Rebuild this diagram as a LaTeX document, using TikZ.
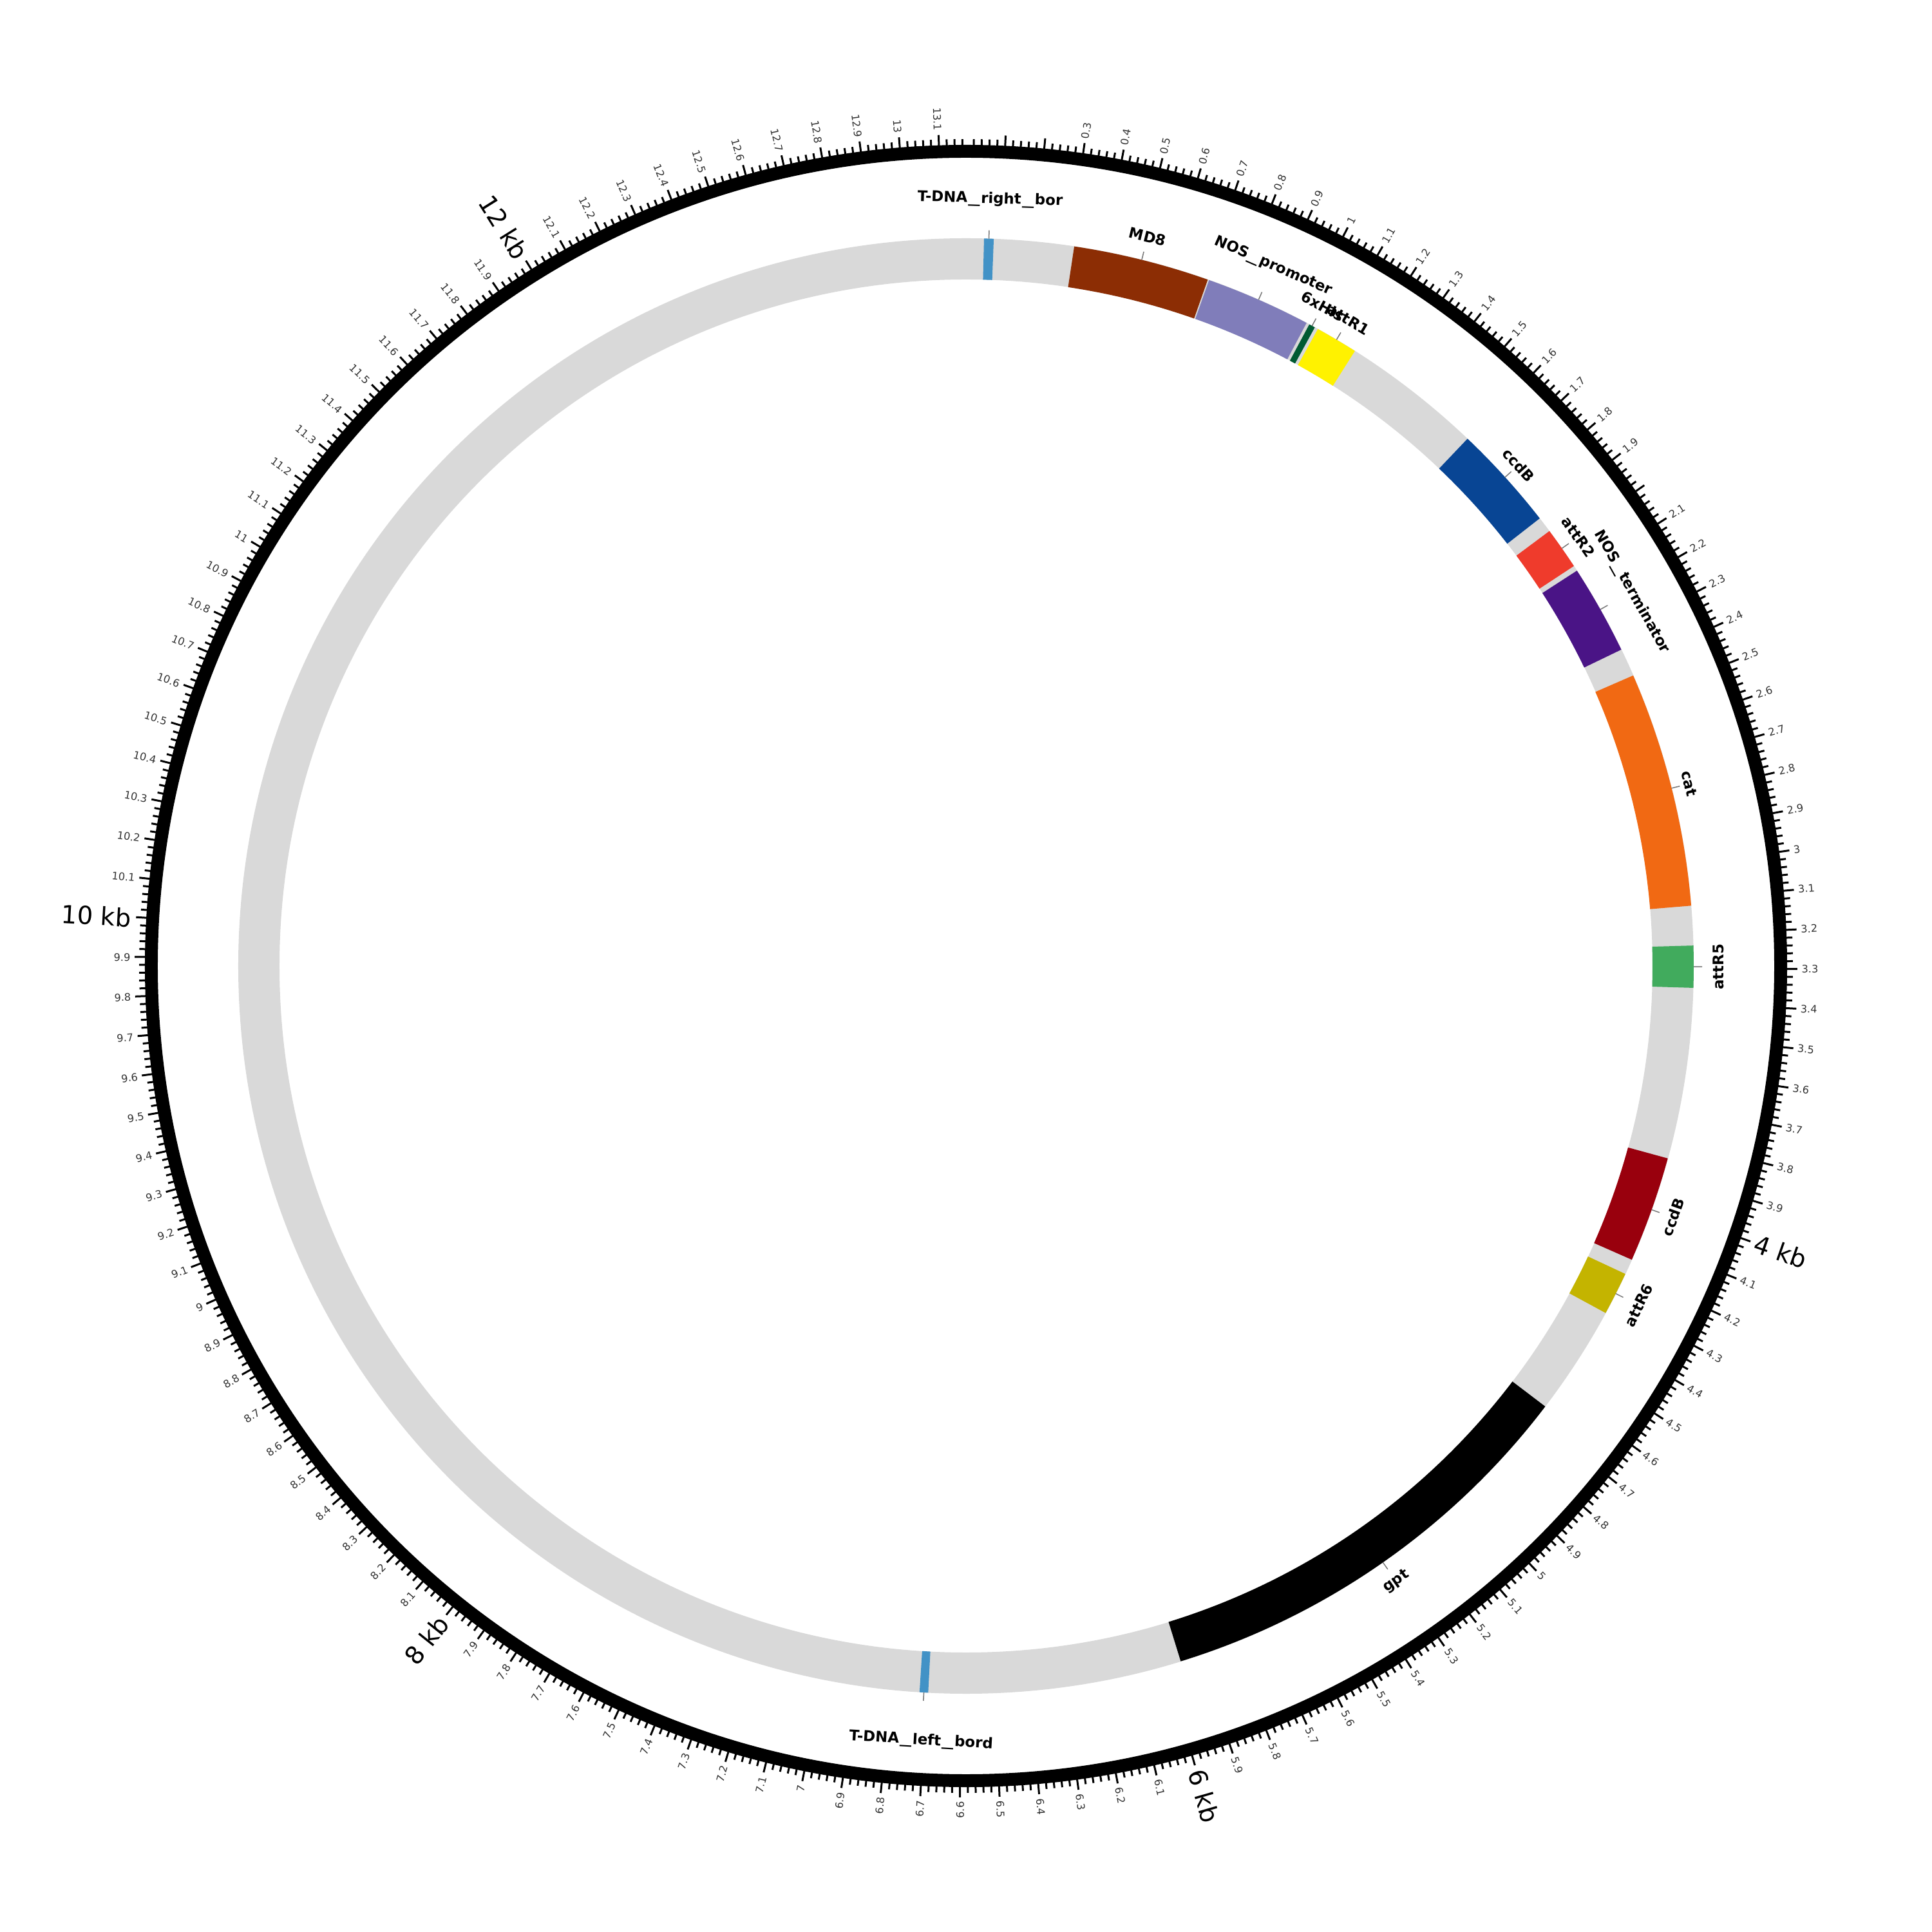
\documentclass[tikz,border=0pt]{standalone}
\usepackage{fontspec}
\usepackage{graphicx}
\setmainfont{DejaVu Sans}
\definecolor{ringgray}{HTML}{D9D9D9}
\definecolor{tdna}{HTML}{4292C6}
\definecolor{mdeight}{HTML}{8C2D04}
\definecolor{nosprom}{HTML}{807DBA}
\definecolor{hisgreen}{HTML}{005A32}
\definecolor{attyellow}{HTML}{FFF200}
\definecolor{ccdbblue}{HTML}{084594}
\definecolor{attred}{HTML}{EF3B2C}
\definecolor{nosterm}{HTML}{4A1486}
\definecolor{catorange}{HTML}{F16913}
\definecolor{attgreen}{HTML}{41AB5D}
\definecolor{ccdbred}{HTML}{99000D}
\definecolor{attolive}{HTML}{C4B400}
\definecolor{ticktext}{HTML}{333333}
\definecolor{leadgray}{HTML}{777777}
\newcommand\usc{\kern0.4pt\scalebox{1.6}[1]{\_}\kern0.4pt}
\newcommand\featseg[3]{%
  \pgfmathsetmacro\fa{90-#1*27.3307}%
  \pgfmathsetmacro\fb{90-#2*27.3307}%
  \fill[#3] (\fa:11.30) arc[start angle=\fa,end angle=\fb,radius=11.30] -- (\fb:10.66) arc[start angle=\fb,end angle=\fa,radius=10.66] -- cycle;}
\newcommand\featlab[5]{%
  \pgfmathsetmacro\th{(#2+#3)/2*27.3307}%
  \pgfmathsetmacro\ph{90-\th}%
  \pgfmathsetmacro\rot{ifthenelse(and(\th>=90,\th<270),180-\th,-\th)}%
  \coordinate (#1-a) at (\ph:11.30);
  \coordinate (#1-b) at (\ph:11.43);
  \draw[labtick] (#1-a) -- (#1-b);
  \node[featlabel, rotate=\rot] (#1) at (\ph:#5) {#4};}
\begin{document}
\begin{tikzpicture}[
  labtick/.style={draw=leadgray, line width=0.43pt},
  featlabel/.style={inner sep=0pt, font=\fontsize{6.5}{7}\selectfont\bfseries},
  majtick/.style={line width=0.85pt},
  mintick/.style={line width=0.85pt},
  ticklabel/.style={inner sep=0pt, text=ticktext, font=\fontsize{4.6}{5}\selectfont},
  biglabel/.style={inner sep=0pt, text=black, font=\fontsize{11}{12}\selectfont}
]
\useasboundingbox (-15,-15) rectangle (15,15);
% backbone ring
\fill[ringgray, even odd rule] (0,0) circle (11.30) (0,0) circle (10.66);
% features
\featseg{0.052}{0.080}{tdna}
\featseg{0.313}{0.710}{mdeight}
\featseg{0.714}{1.021}{nosprom}
\featseg{1.030}{1.048}{hisgreen}
\featseg{1.058}{1.182}{attyellow}
\featseg{1.594}{1.904}{ccdbblue}
\featseg{1.950}{2.073}{attred}
\featseg{2.089}{2.350}{nosterm}
\featseg{2.432}{3.119}{catorange}
\featseg{3.234}{3.356}{attgreen}
\featseg{3.854}{4.164}{ccdbred}
\featseg{4.209}{4.335}{attolive}
\featseg{4.656}{5.958}{black}
\featseg{6.695}{6.720}{tdna}
% labels
\featlab{tdnar}{0.052}{0.080}{T-DNA\usc right\usc bor}{11.91}
\featlab{md8}{0.313}{0.710}{MD8}{11.67}
\featlab{nosp}{0.714}{1.021}{NOS\usc promoter}{11.87}
\featlab{his}{1.030}{1.048}{6xHis}{11.65}
\featlab{attrone}{1.058}{1.182}{attR1}{11.66}
\featlab{ccdbone}{1.594}{1.904}{ccdB}{11.58}
\featlab{attrtwo}{1.950}{2.073}{attR2}{11.61}
\featlab{nost}{2.089}{2.350}{NOS\usc terminator}{11.86}
\featlab{cat}{2.432}{3.119}{cat}{11.58}
\featlab{attrfive}{3.234}{3.356}{attR5}{11.68}
\featlab{ccdbtwo}{3.854}{4.164}{ccdB}{11.65}
\featlab{attrsix}{4.209}{4.335}{attR6}{11.70}
\featlab{gpt}{4.656}{5.958}{gpt}{11.66}
\featlab{tdnal}{6.695}{6.720}{T-DNA\usc left\usc bord}{12.05}
% outer black ring
\fill[black, even odd rule] (0,0) circle (12.75) (0,0) circle (12.55);
% ticks
\foreach \i in {1,...,658}{
  \pgfmathsetmacro\ph{90-\i*0.02*27.3307}
  \pgfmathtruncatemacro\m{mod(\i,5)}
  \ifnum\m=0
    \draw[majtick] (\ph:12.72) -- (\ph:12.91);
  \else
    \draw[mintick] (\ph:12.72) -- (\ph:12.84);
  \fi
}
% tick labels
\foreach \i in {3,...,131}{
  \pgfmathtruncatemacro\m{mod(\i,20)}
  \ifnum\m=0\relax\else
    \pgfmathtruncatemacro\ip{\i/10}
    \pgfmathtruncatemacro\fp{mod(\i,10)}
    \pgfmathsetmacro\th{\i*0.1*27.3307}
    \pgfmathsetmacro\ph{90-\th}
    \pgfmathsetmacro\phb{\ph+180}
    \pgfmathtruncatemacro\rh{\th<180}
    \ifnum\rh=1
      \node[ticklabel, anchor=west, rotate=\ph] (t\i) at (\ph:12.97) {\ifnum\fp=0 \ip\else\ip.\fp\fi};
    \else
      \node[ticklabel, anchor=east, rotate=\phb] (t\i) at (\ph:12.97) {\ifnum\fp=0 \ip\else\ip.\fp\fi};
    \fi
  \fi
}
% big kb labels
\foreach \k in {4,6,8,10,12}{
  \pgfmathsetmacro\th{\k*27.3307}
  \pgfmathsetmacro\ph{90-\th}
  \pgfmathsetmacro\phb{\ph+180}
  \pgfmathtruncatemacro\rh{\th<180}
  \ifnum\rh=1
    \node[biglabel, anchor=west, rotate=\ph] (kb\k) at (\ph:12.98) {\k\ kb};
  \else
    \node[biglabel, anchor=east, rotate=\phb] (kb\k) at (\ph:12.98) {\k\ kb};
  \fi
}
\end{tikzpicture}
\end{document}
